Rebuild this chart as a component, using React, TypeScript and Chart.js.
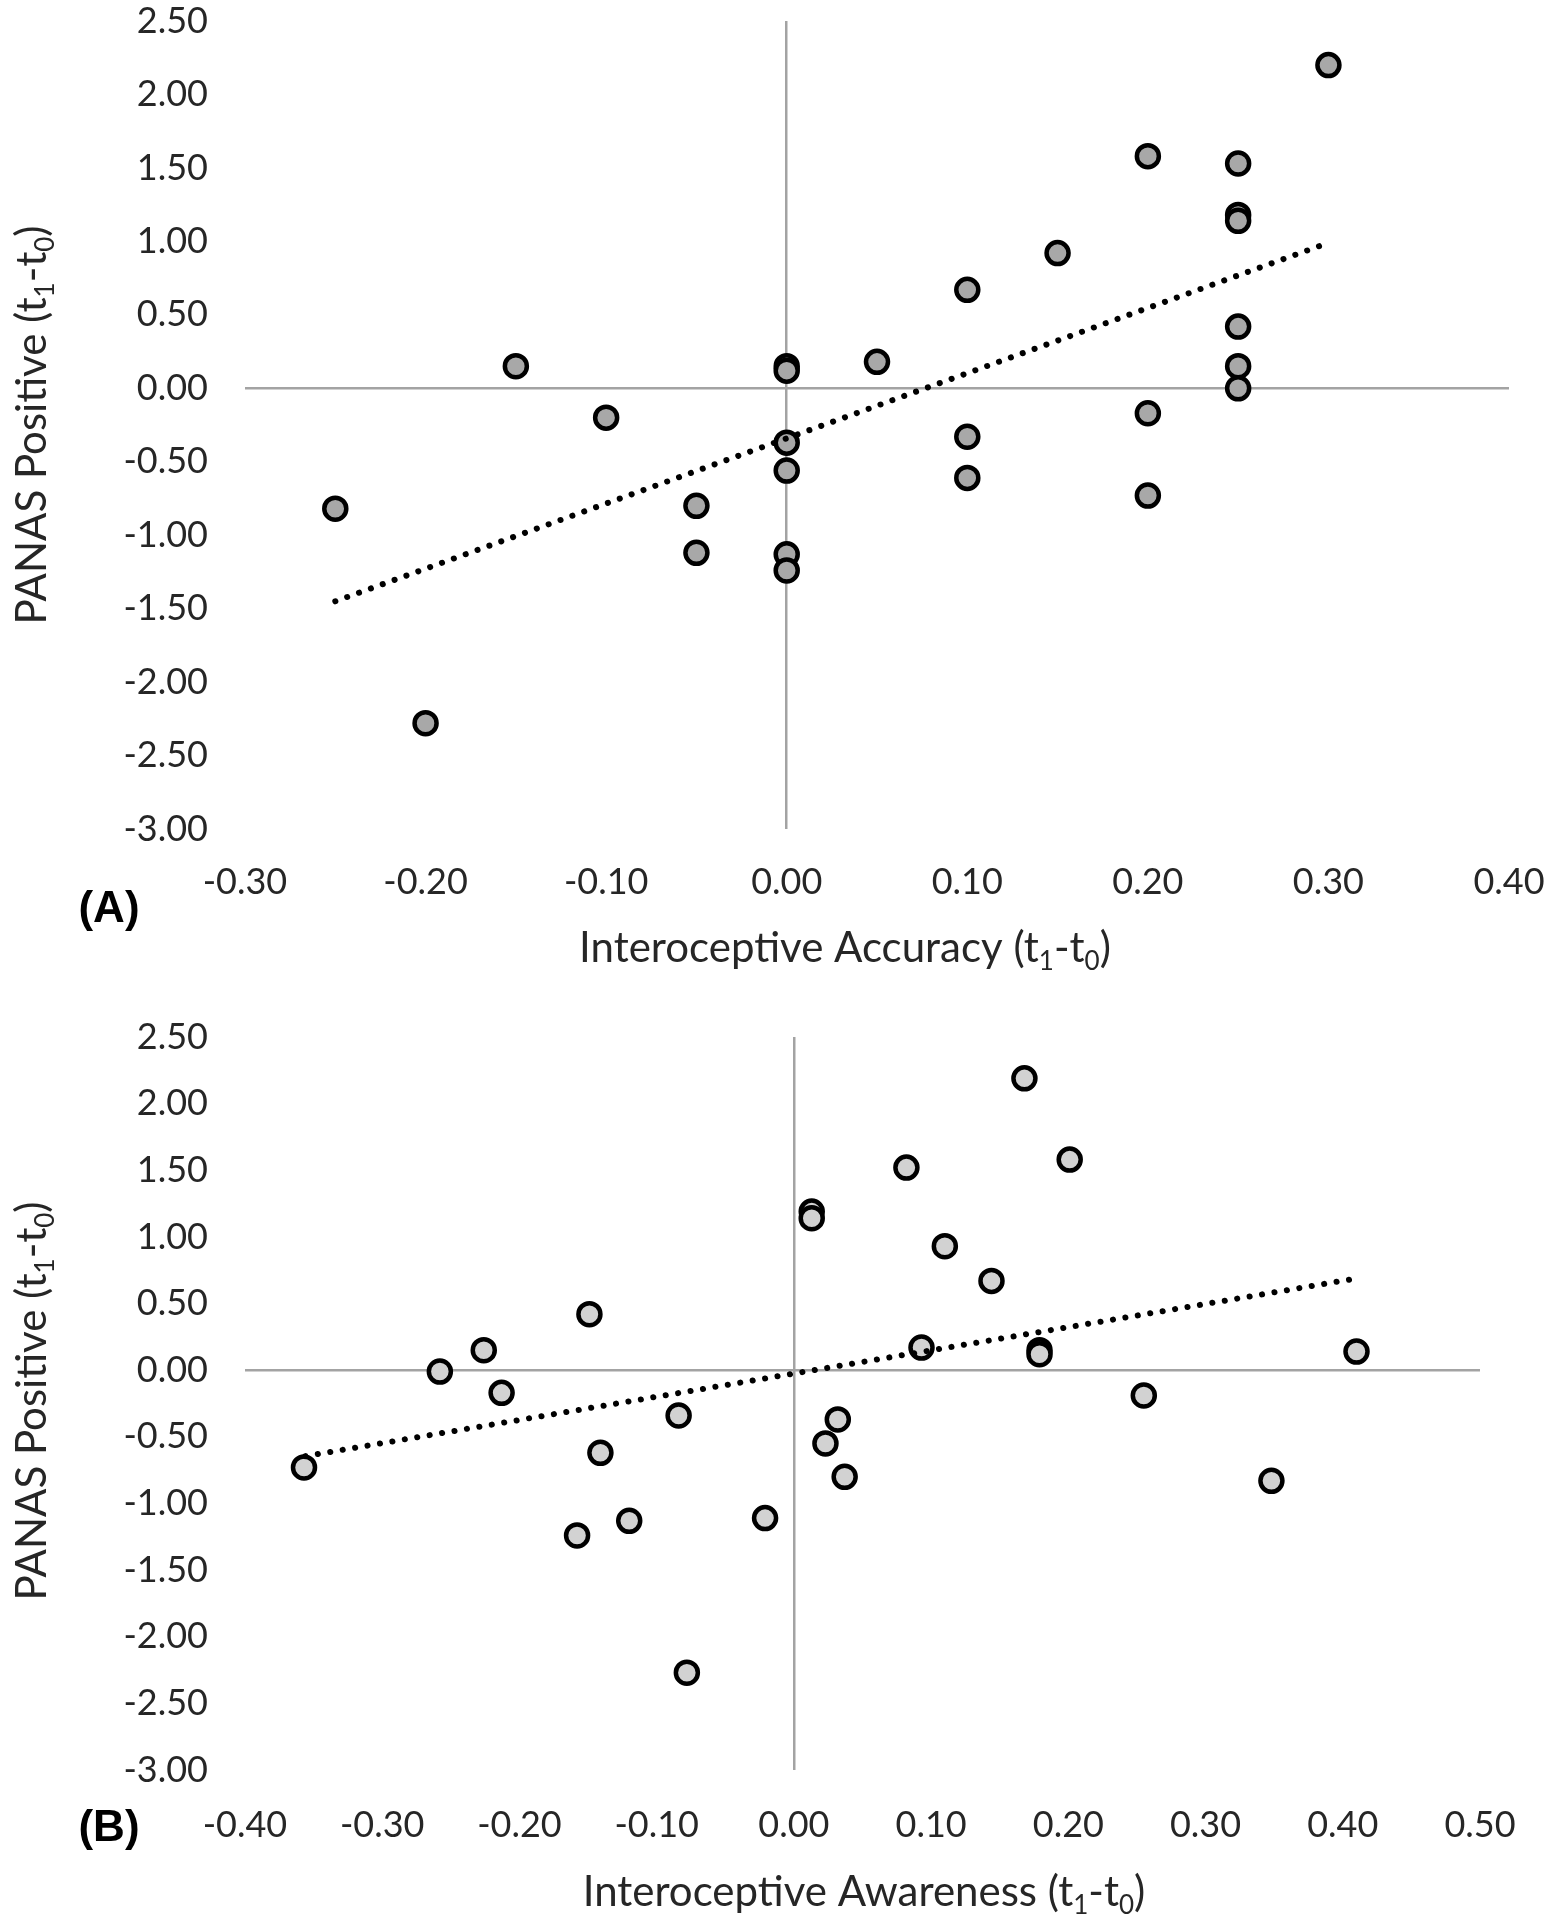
import React, { useEffect, useRef } from "react";
import { Chart, registerables } from "chart.js";

Chart.register(...registerables);

// ---------- Panel A: Interoceptive Accuracy vs PANAS Positive ----------
const accuracyX = [0.30, 0.20, 0.25, 0.25, 0.25, 0.15, 0.10, 0.25, 0.25, 0.25, 0.05, 0.00, 0.00, -0.15, -0.10, 0.00, 0.00, 0.10, 0.10, 0.20, 0.20, -0.05, -0.05, 0.00, 0.00, -0.25, -0.20];
const accuracyY = [2.20, 1.58, 1.53, 1.18, 1.14, 0.92, 0.67, 0.42, 0.15, 0.00, 0.18, 0.15, 0.12, 0.15, -0.20, -0.37, -0.56, -0.33, -0.61, -0.17, -0.73, -0.80, -1.12, -1.13, -1.24, -0.82, -2.28];
const trendAX = [-0.25, 0.30];
const trendAY = [-1.45, 0.99];
const xRangeA = [-0.3, 0.4];

// ---------- Panel B: Interoceptive Awareness vs PANAS Positive ----------
const awarenessX = [0.168, 0.201, 0.082, 0.013, 0.013, 0.110, 0.144, -0.149, -0.226, -0.258, -0.213, 0.093, 0.179, 0.179, 0.410, 0.255, -0.084, 0.032, 0.023, 0.037, -0.141, -0.021, -0.120, -0.158, 0.348, -0.357, -0.078];
const awarenessY = [2.19, 1.58, 1.52, 1.19, 1.14, 0.93, 0.67, 0.42, 0.15, -0.01, -0.17, 0.17, 0.15, 0.12, 0.14, -0.19, -0.34, -0.37, -0.55, -0.80, -0.62, -1.11, -1.13, -1.24, -0.83, -0.73, -2.27];
const trendBX = [-0.356, 0.408];
const trendBY = [-0.645, 0.685];
const xRangeB = [-0.4, 0.5];

const yRange = [-3.0, 2.5];
const xStep = 0.1;
const yStep = 0.5;

const FONT = "Lato, 'Open Sans', sans-serif";
const BOLD_FONT = "'Liberation Sans', Arial, sans-serif";
const TEXT_COLOR = "#262626";
const AXIS_COLOR = "#a3a3a3";

type Part = { t: string; sub?: boolean };
type TitleItem = {
  parts: Part[];
  x: number;
  y: number;
  size: number;
  rotate?: boolean;
  bold?: boolean;
  family?: string;
  color?: string;
};

const richTitles = {
  id: "richTitles",
  afterDraw(chart: any, _args: any, opts: any) {
    const ctx: CanvasRenderingContext2D = chart.ctx;
    const items: TitleItem[] = opts.items || [];
    for (const item of items) {
      ctx.save();
      ctx.translate(item.x, item.y);
      if (item.rotate) ctx.rotate(-Math.PI / 2);
      ctx.fillStyle = item.color || TEXT_COLOR;
      const weight = item.bold ? "bold" : "normal";
      const fam = item.family || FONT;
      const baseFont = `${weight} ${item.size}px ${fam}`;
      const subFont = `${weight} ${Math.round(item.size * 0.62)}px ${fam}`;
      let w = 0;
      for (const p of item.parts) {
        ctx.font = p.sub ? subFont : baseFont;
        w += ctx.measureText(p.t).width;
      }
      let x = -w / 2;
      ctx.textBaseline = "alphabetic";
      ctx.textAlign = "left";
      for (const p of item.parts) {
        ctx.font = p.sub ? subFont : baseFont;
        ctx.fillText(p.t, x, p.sub ? item.size * 0.2 : 0);
        x += ctx.measureText(p.t).width;
      }
      ctx.restore();
    }
  },
};

const subParts = (prefix: string): Part[] => [
  { t: prefix + " (t" },
  { t: "1", sub: true },
  { t: "-t" },
  { t: "0", sub: true },
  { t: ")" },
];

type PanelProps = {
  top: number;
  height: number;
  xs: number[];
  ys: number[];
  tx: number[];
  ty: number[];
  xRange: number[];
  fill: string;
  padding: { left: number; top: number; right: number; bottom: number };
  xScaleHeight: number;
  xTickPadding: number;
  titles: TitleItem[];
};

function Panel(props: PanelProps) {
  const ref = useRef<HTMLCanvasElement | null>(null);
  useEffect(() => {
    if (!ref.current) return;
    const zeroColor = (c: any) =>
      c.tick && Math.abs(c.tick.value) < 1e-9 ? AXIS_COLOR : "rgba(0,0,0,0)";
    const chart = new Chart(ref.current, {
      type: "scatter",
      data: {
        datasets: [
          {
            data: props.tx.map((x, i) => ({ x, y: props.ty[i] })),
            showLine: true,
            borderColor: "#000000",
            borderWidth: 6,
            borderDash: [0.1, 12.5],
            borderCapStyle: "round",
            pointRadius: 0,
            fill: false,
          } as any,
          {
            data: props.xs.map((x, i) => ({ x, y: props.ys[i] })),
            backgroundColor: props.fill,
            borderColor: "#000000",
            borderWidth: 4.5,
            pointRadius: 11,
            pointHoverRadius: 11,
          },
        ],
      },
      options: {
        animation: false,
        responsive: false,
        maintainAspectRatio: false,
        layout: { padding: props.padding },
        plugins: {
          legend: { display: false },
          tooltip: { enabled: false },
          richTitles: { items: props.titles },
        } as any,
        scales: {
          x: {
            type: "linear",
            min: props.xRange[0],
            max: props.xRange[1],
            ticks: {
              stepSize: xStep,
              autoSkip: false,
              maxRotation: 0,
              padding: props.xTickPadding,
              color: TEXT_COLOR,
              font: { size: 36, family: FONT },
              callback: (v: any) => Number(v).toFixed(2),
            },
            grid: { drawTicks: false, color: zeroColor, lineWidth: 2.5 },
            border: { display: false },
            afterFit: (s: any) => {
              s.height = props.xScaleHeight;
              s.paddingLeft = 0;
              s.paddingRight = 0;
            },
          },
          y: {
            type: "linear",
            min: yRange[0],
            max: yRange[1],
            ticks: {
              stepSize: yStep,
              autoSkip: false,
              padding: 37,
              color: TEXT_COLOR,
              font: { size: 36, family: FONT },
              callback: (v: any) => Number(v).toFixed(2),
            },
            grid: { drawTicks: false, color: zeroColor, lineWidth: 2.5 },
            border: { display: false },
            afterFit: (s: any) => {
              s.width = 245;
              s.paddingTop = 0;
              s.paddingBottom = 0;
            },
          },
        },
      },
      plugins: [richTitles as any],
    });
    return () => chart.destroy();
  }, []);
  return (
    <canvas
      ref={ref}
      width={1553}
      height={props.height}
      style={{ position: "absolute", left: 0, top: props.top, width: 1553, height: props.height }}
    />
  );
}

export default function App() {
  return (
    <div style={{ position: "absolute", left: 0, top: 0, width: 1553, height: 1920, background: "#ffffff" }}>
      <Panel
        top={0}
        height={1000}
        xs={accuracyX}
        ys={accuracyY}
        tx={trendAX}
        ty={trendAY}
        xRange={xRangeA}
        fill="#a8a8a8"
        padding={{ left: 0, top: 21, right: 44, bottom: 0 }}
        xScaleHeight={171}
        xTickPadding={32}
        titles={[
          { parts: subParts("Interoceptive Accuracy"), x: 845, y: 962, size: 42 },
          { parts: subParts("PANAS Positive"), x: 46, y: 425, size: 42, rotate: true },
          { parts: [{ t: "(A)" }], x: 109, y: 922, size: 44, bold: true, family: BOLD_FONT, color: "#000000" },
        ]}
      />
      <Panel
        top={960}
        height={960}
        xs={awarenessX}
        ys={awarenessY}
        tx={trendBX}
        ty={trendBY}
        xRange={xRangeB}
        fill="#d2d2d2"
        padding={{ left: 0, top: 77, right: 73, bottom: 0 }}
        xScaleHeight={150}
        xTickPadding={34}
        titles={[
          { parts: subParts("Interoceptive Awareness"), x: 864, y: 946, size: 42 },
          { parts: subParts("PANAS Positive"), x: 46, y: 441, size: 42, rotate: true },
          { parts: [{ t: "(B)" }], x: 109, y: 881, size: 44, bold: true, family: BOLD_FONT, color: "#000000" },
        ]}
      />
    </div>
  );
}
